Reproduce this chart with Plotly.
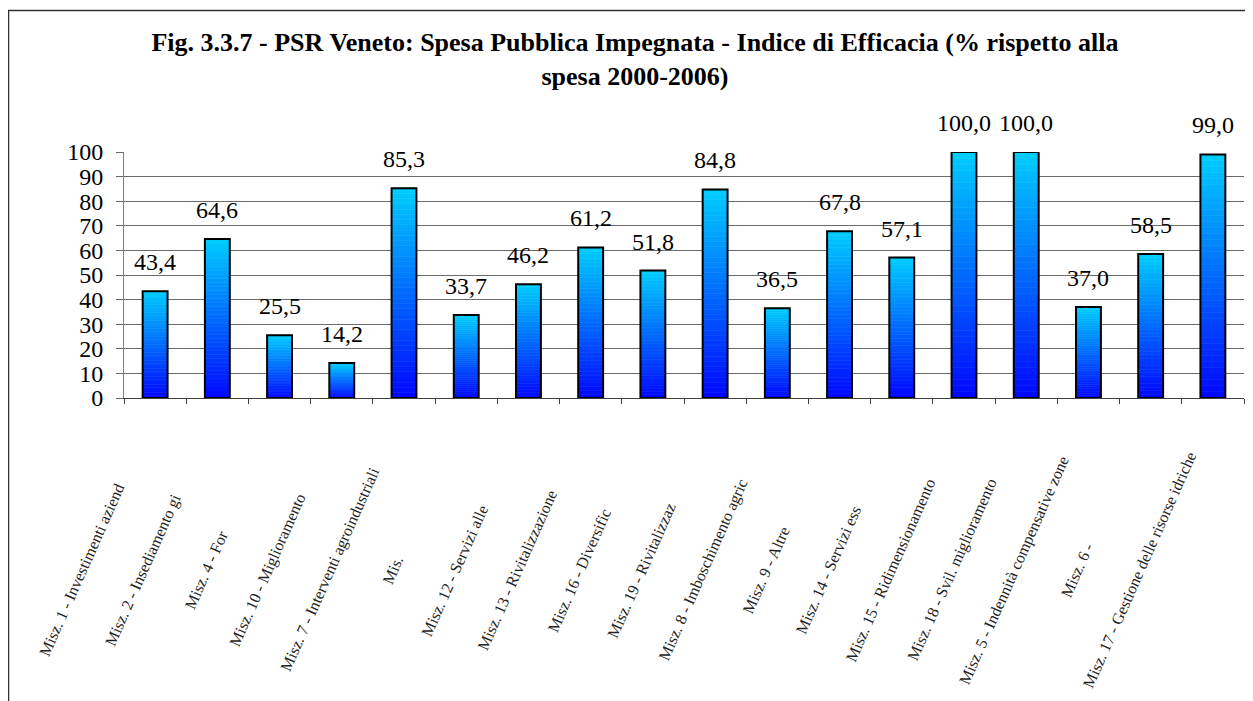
import plotly.graph_objects as go

# ---------------- data ----------------
categories = [
    "Misz. 1 - Investimenti aziend",
    "Misz. 2 - Insediamento gi",
    "Misz. 4 - For",
    "Misz. 10 - Miglioramento",
    "Misz. 7 - Interventi agroindustriali",
    "Mis.",
    "Misz. 12 - Servizi alle",
    "Misz. 13 - Rivitalizzazione",
    "Misz. 16 - Diversific",
    "Misz. 19 - Rivitalizzaz",
    "Misz. 8 - Imboschimento agric",
    "Misz. 9 - Altre",
    "Misz. 14 - Servizi ess",
    "Misz. 15 - Ridimensionamento",
    "Misz. 18 - Svil. miglioramento",
    "Misz. 5 - Indennità compensative zone",
    "Misz. 6 -",
    "Misz. 17 - Gestione delle risorse idriche",
]
values = [43.4, 64.6, 25.5, 14.2, 85.3, 33.7, 46.2, 61.2, 51.8,
          84.8, 36.5, 67.8, 57.1, 100.0, 100.0, 37.0, 58.5, 99.0]
y_ticks = [0, 10, 20, 30, 40, 50, 60, 70, 80, 90, 100]
title_lines = [
    "Fig. 3.3.7 - PSR Veneto: Spesa Pubblica Impegnata - Indice di Efficacia (% rispetto alla",
    "spesa 2000-2006)",
]

# ---------------- layout geometry (figure pixels; page adds an 8px body margin) ----------------
W, H = 1245, 693
L, R, T, B = 116, 9, 144, 303
PW = W - L - R
PH = H - T - B
SERIF = "Liberation Serif"


def px_to_paper_x(px):
    return (px - L) / PW


def px_to_paper_y(py):
    return (H - B - py) / PH


fig = go.Figure()

# gradient bars: each bar split into N stacked slices (blue at bottom -> cyan at top)
N = 40
for k in range(N):
    t = (k + 0.5) / N
    g = round(6 + 200 * t)
    col = f"rgb(0,{g},255)"
    fig.add_trace(go.Bar(
        x=categories,
        y=[v / N for v in values],
        marker=dict(color=col, line=dict(color=col, width=0.6)),
        showlegend=False,
        hoverinfo="skip",
    ))

# black outline of each bar on an overlaid axis pair
fig.add_trace(go.Bar(
    x=categories,
    y=values,
    xaxis="x2",
    yaxis="y2",
    marker=dict(color="rgba(0,0,0,0)", line=dict(color="black", width=2)),
    showlegend=False,
    hovertemplate="%{x}: %{y:.1f}<extra></extra>",
))

annotations = []
# value labels
for c, v in zip(categories, values):
    annotations.append(dict(
        x=c, y=v, xref="x", yref="y",
        text=f"{v:.1f}".replace(".", ","),
        showarrow=False, yanchor="middle", yshift=29,
        font=dict(family=SERIF, size=24, color="black"),
    ))
# rotated category labels
for c in categories:
    annotations.append(dict(
        x=c, y=0, xref="x", yref="y",
        text=c, textangle=-66,
        showarrow=False, xanchor="center", yanchor="middle",
        xshift=-74, yshift=-172,
        font=dict(family=SERIF, size=16, color="#222222"),
    ))

n = len(categories)
fig.update_layout(
    width=W, height=H,
    margin=dict(l=L, r=R, t=T, b=B),
    paper_bgcolor="white",
    plot_bgcolor="white",
    barmode="relative",
    bargap=0.6,
    title=dict(
        text="<b>" + "<br>".join(title_lines) + "</b>",
        x=627 / W, xref="container", xanchor="center",
        y=1 - 43 / H, yref="container", yanchor="top",
        font=dict(family=SERIF, size=26, color="black"),
    ),
    xaxis=dict(
        type="category",
        range=[-0.5, n - 0.5],
        autorange=False,
        showticklabels=False,
        showgrid=False,
        showline=True, linecolor="#404040", linewidth=1,
        ticks="outside", tickson="boundaries", ticklen=5, tickcolor="#404040",
        zeroline=False,
    ),
    xaxis2=dict(overlaying="x", matches="x", visible=False, type="category"),
    yaxis=dict(
        range=[0, 100],
        autorange=False,
        tickvals=y_ticks,
        ticktext=[str(v) for v in y_ticks],
        showgrid=True, gridcolor="#6a6a6a", gridwidth=1,
        showline=True, linecolor="#808080", linewidth=1,
        ticks="outside", ticklen=7, tickcolor="#6a6a6a",
        ticklabelstandoff=8,
        zeroline=False,
        tickfont=dict(family=SERIF, size=24, color="black"),
    ),
    yaxis2=dict(overlaying="y", matches="y", visible=False, range=[0, 100]),
    annotations=annotations,
    shapes=[dict(
        type="rect", xref="paper", yref="paper",
        x0=px_to_paper_x(0.5), x1=px_to_paper_x(W + 20),
        y0=px_to_paper_y(2.5), y1=px_to_paper_y(H + 20),
        line=dict(color="#303030", width=1.5),
        fillcolor="rgba(0,0,0,0)",
        layer="below",
    )],
    showlegend=False,
)

fig.write_html("out.html")
